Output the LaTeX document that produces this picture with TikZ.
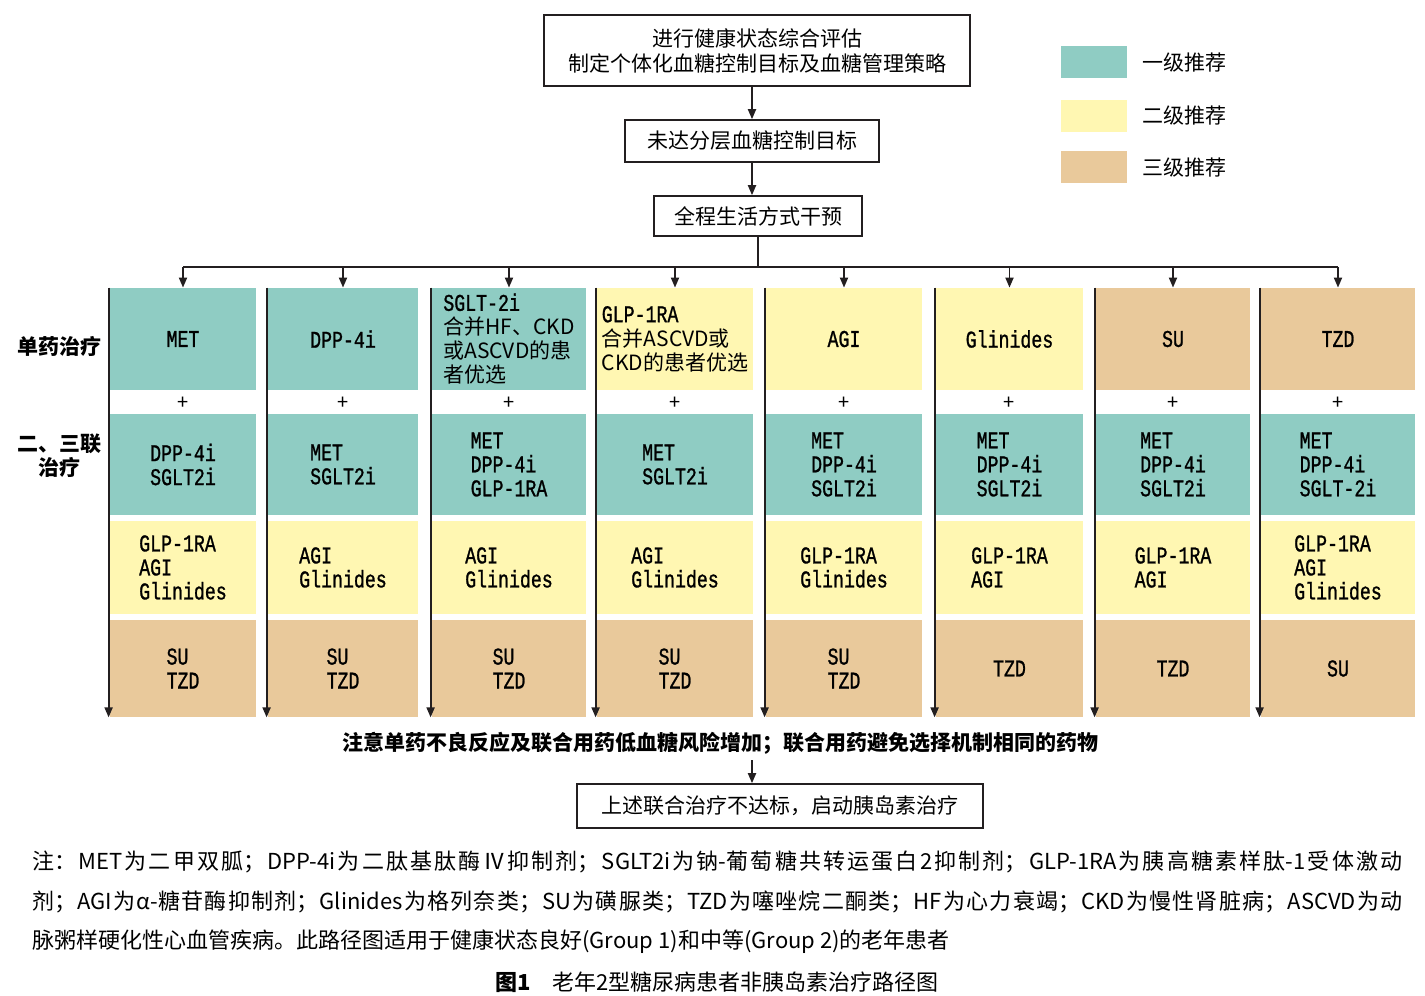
\documentclass[tikz,border=0pt]{standalone}
\usepackage{fontspec}
\setmainfont{Noto Sans CJK SC}
\newfontfamily\cjk{Noto Sans CJK SC}
\newfontfamily\mono[FakeStretch=0.76,FakeBold=1]{Liberation Mono}
\usetikzlibrary{arrows.meta,calc}
\XeTeXlinebreaklocale "zh"
\XeTeXlinebreakskip=0pt plus 1pt
\newcommand\zh{\cjk\fontsize{10.5}{12}\selectfont}
\definecolor{ink}{HTML}{231F20}
\definecolor{lvone}{HTML}{8FCCC3}
\definecolor{lvtwo}{HTML}{FFF7B2}
\definecolor{lvthree}{HTML}{E9C99B}
\tikzset{
  box/.style={draw=ink,line width=0.8pt,fill=white,align=center,font=\fontsize{10.5}{12.5}\selectfont,inner sep=0pt},
  cell/.style={inner sep=0pt,align=left,font=\mono\fontsize{12}{12}\selectfont},
  one/.style={cell,fill=lvone},
  two/.style={cell,fill=lvtwo},
  three/.style={cell,fill=lvthree},
  rmono/.style={minimum height=51pt},
  rcombo/.style={minimum height=50.5pt},
  rsec/.style={minimum height=46.5pt},
  rthird/.style={minimum height=48.5pt},
  w1/.style={minimum width=73pt}, w2/.style={minimum width=75pt},
  w3/.style={minimum width=77pt}, w4/.style={minimum width=78pt},
  w5/.style={minimum width=78pt}, w6/.style={minimum width=73.5pt},
  w7/.style={minimum width=77pt}, w8/.style={minimum width=77pt},
  plus/.style={font=\fontsize{10}{10}\selectfont,inner sep=0pt},
  key/.style={minimum width=33pt,minimum height=16pt,inner sep=0pt},
  keytext/.style={anchor=west,inner sep=0pt,font=\fontsize{10.5}{12}\selectfont},
  side/.style={align=center,inner sep=0pt,font=\bfseries\fontsize{10.5}{12}\selectfont},
  note/.style={inner sep=0pt,font=\bfseries\fontsize{10.5}{12}\selectfont},
  fline/.style={anchor=west,inner sep=0pt,font=\fontsize{11}{13}\selectfont},
  fjust/.style={fline,text width=685pt,align=justify},
  line/.style={draw=ink,line width=0.9pt},
  flow/.style={line,-{Triangle[length=5pt,width=4pt]}}
}

\begin{document}
\begin{tikzpicture}[x=0.5pt,y=-0.5pt]
  \useasboundingbox (0,0) rectangle (1425,996);
  % top chain
  \node[box,minimum width=213pt,minimum height=35.5pt] (assess) at (757,50.5) {进行健康状态综合评估\\制定个体化血糖控制目标及血糖管理策略};
  \node[box,minimum width=127pt,minimum height=21pt] (goal) at (752,141) {未达分层血糖控制目标};
  \node[box,minimum width=104pt,minimum height=20pt] (life) at (758,216) {全程生活方式干预};
  \coordinate (bus) at (755,267);
  \draw[flow] (goal.north |- assess.south) -- (goal.north);
  \draw[flow] (goal.south) -- (goal.south |- life.north);
  % legend
  \node[key,fill=lvone] (k1) at (1094,62) {};
  \node[key,fill=lvtwo] (k2) at (1094,116) {};
  \node[key,fill=lvthree] (k3) at (1094,167) {};
  \node[keytext] (k1t) at (1142,63) {一级推荐};
  \node[keytext] (k2t) at (1142,116) {二级推荐};
  \node[keytext] (k3t) at (1142,168) {三级推荐};
  % row labels
  \node[side] (lsingle) at (60,346) {单药治疗};
  \node[side] (lcombo) at (60,456) {二、三联\\治疗};
  % monotherapy row
  \node[one,rmono,w1] (m1) at (183,339) {MET};
  \node[one,rmono,w2] (m2) at (343,339) {DPP-4i};
  \node[one,rmono,w3] (m3) at (509,339) {SGLT-2i\\{\zh 合并HF、CKD}\\{\zh 或ASCVD的患}\\{\zh 者优选}};
  \node[two,rmono,w4] (m4) at (675,339) {GLP-1RA\\{\zh 合并ASCVD或}\\{\zh CKD的患者优选}};
  \node[two,rmono,w5] (m5) at (844,339) {AGI};
  \node[two,rmono,w6] (m6) at (1009.5,339) {Glinides};
  \node[three,rmono,w7] (m7) at (1173,339) {SU};
  \node[three,rmono,w8] (m8) at (1338,339) {TZD};
  % first-line add-on
  \node[one,rcombo,w1] (c1) at (183,464.5) {DPP-4i\\SGLT2i};
  \node[one,rcombo,w2] (c2) at (343,464.5) {MET\\SGLT2i};
  \node[one,rcombo,w3] (c3) at (509,464.5) {MET\\DPP-4i\\GLP-1RA};
  \node[one,rcombo,w4] (c4) at (675,464.5) {MET\\SGLT2i};
  \node[one,rcombo,w5] (c5) at (844,464.5) {MET\\DPP-4i\\SGLT2i};
  \node[one,rcombo,w6] (c6) at (1009.5,464.5) {MET\\DPP-4i\\SGLT2i};
  \node[one,rcombo,w7] (c7) at (1173,464.5) {MET\\DPP-4i\\SGLT2i};
  \node[one,rcombo,w8] (c8) at (1338,464.5) {MET\\DPP-4i\\SGLT-2i};
  % second-line add-on
  \node[two,rsec,w1] (s1) at (183,567.5) {GLP-1RA\\AGI\\Glinides};
  \node[two,rsec,w2] (s2) at (343,567.5) {AGI\\Glinides};
  \node[two,rsec,w3] (s3) at (509,567.5) {AGI\\Glinides};
  \node[two,rsec,w4] (s4) at (675,567.5) {AGI\\Glinides};
  \node[two,rsec,w5] (s5) at (844,567.5) {GLP-1RA\\Glinides};
  \node[two,rsec,w6] (s6) at (1009.5,567.5) {GLP-1RA\\AGI};
  \node[two,rsec,w7] (s7) at (1173,567.5) {GLP-1RA\\AGI};
  \node[two,rsec,w8] (s8) at (1338,567.5) {GLP-1RA\\AGI\\Glinides};
  % third-line add-on
  \node[three,rthird,w1] (t1) at (183,668.5) {SU\\TZD};
  \node[three,rthird,w2] (t2) at (343,668.5) {SU\\TZD};
  \node[three,rthird,w3] (t3) at (509,668.5) {SU\\TZD};
  \node[three,rthird,w4] (t4) at (675,668.5) {SU\\TZD};
  \node[three,rthird,w5] (t5) at (844,668.5) {SU\\TZD};
  \node[three,rthird,w6] (t6) at (1009.5,668.5) {TZD};
  \node[three,rthird,w7] (t7) at (1173,668.5) {TZD};
  \node[three,rthird,w8] (t8) at (1338,668.5) {SU};
  % plus signs
  \node[plus] (p1) at ($(m1.south)!.55!(c1.north)$) {+};
  \node[plus] (p2) at ($(m2.south)!.55!(c2.north)$) {+};
  \node[plus] (p3) at ($(m3.south)!.55!(c3.north)$) {+};
  \node[plus] (p4) at ($(m4.south)!.55!(c4.north)$) {+};
  \node[plus] (p5) at ($(m5.south)!.55!(c5.north)$) {+};
  \node[plus] (p6) at ($(m6.south)!.55!(c6.north)$) {+};
  \node[plus] (p7) at ($(m7.south)!.55!(c7.north)$) {+};
  \node[plus] (p8) at ($(m8.south)!.55!(c8.north)$) {+};
  % branching
  \draw[line] (life.south) -- (life.south |- bus);
  \draw[line] (m1.north |- bus) -- (m8.north |- bus);
  \draw[flow] (m1.north |- bus) -- (m1.north);
  \draw[flow] (m2.north |- bus) -- (m2.north);
  \draw[flow] (m3.north |- bus) -- (m3.north);
  \draw[flow] (m4.north |- bus) -- (m4.north);
  \draw[flow] (m5.north |- bus) -- (m5.north);
  \draw[flow] (m6.north |- bus) -- (m6.north);
  \draw[flow] (m7.north |- bus) -- (m7.north);
  \draw[flow] (m8.north |- bus) -- (m8.north);
  % escalation arrows
  \draw[flow] ([xshift=-0.5pt]m1.north west) -- ([xshift=-0.5pt]t1.south west);
  \draw[flow] ([xshift=-0.5pt]m2.north west) -- ([xshift=-0.5pt]t2.south west);
  \draw[flow] ([xshift=-0.5pt]m3.north west) -- ([xshift=-0.5pt]t3.south west);
  \draw[flow] ([xshift=-0.5pt]m4.north west) -- ([xshift=-0.5pt]t4.south west);
  \draw[flow] ([xshift=-0.5pt]m5.north west) -- ([xshift=-0.5pt]t5.south west);
  \draw[flow] ([xshift=-0.5pt]m6.north west) -- ([xshift=-0.5pt]t6.south west);
  \draw[flow] ([xshift=-0.5pt]m7.north west) -- ([xshift=-0.5pt]t7.south west);
  \draw[flow] ([xshift=-0.5pt]m8.north west) -- ([xshift=-0.5pt]t8.south west);
  % bottom
  \node[note] (caution) at (720,743) {注意单药不良反应及联合用药低血糖风险增加；联合用药避免选择机制相同的药物};
  \node[box,minimum width=203pt,minimum height=22pt] (insulin) at (780,806) {上述联合治疗不达标，启动胰岛素治疗};
  \draw[flow] ([yshift=-3pt]caution.south -| goal) -- (insulin.north -| goal);
  % footnote and caption
  \node[fjust] (fn1) at (32,862) {\parfillskip=0pt 注：MET为二甲双胍；DPP-4i为二肽基肽酶Ⅳ抑制剂；SGLT2i为钠-葡萄糖共转运蛋白2抑制剂；GLP-1RA为胰高糖素样肽-1受体激动\par};
  \node[fjust] (fn2) at (32,902) {\parfillskip=0pt 剂；AGI为α-糖苷酶抑制剂；Glinides为格列奈类；SU为磺脲类；TZD为噻唑烷二酮类；HF为心力衰竭；CKD为慢性肾脏病；ASCVD为动\par};
  \node[fline] (fn3) at (32,942) {脉粥样硬化性心血管疾病。此路径图适用于健康状态良好(Group 1)和中等(Group 2)的老年患者};
  \node[fline,anchor=center] (cap) at (717,982) {{\bfseries 图1}\hspace{1em}老年2型糖尿病患者非胰岛素治疗路径图};
\end{tikzpicture}
\end{document}
